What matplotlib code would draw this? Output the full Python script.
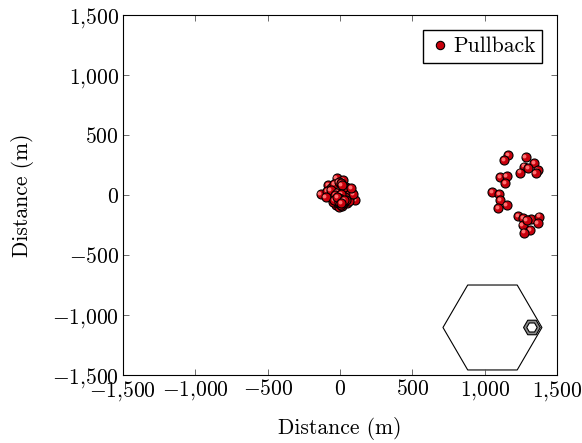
import numpy as np
import matplotlib.pyplot as plt
import matplotlib.transforms as mtransforms
from matplotlib.ticker import FuncFormatter
from matplotlib.patches import Polygon

plt.rcParams.update({'font.family': 'cmr10', 'mathtext.fontset': 'cm',
                     'axes.formatter.use_mathtext': True, 'font.size': 15.5})

# pullback positions (m): cluster at the origin
center_x = [-133, -23, 23, -81, 104, -60, -40, -10, 10, 40, 60, 70, -70, -50, 30,
            0, -20, 20, 50, -30, 5, -5, 15, 80, -90, 45, -45, 65, 35, -15,
            -35, 25, 55, -65, 90, -100, 0, 12, -8, 75,
            -10, 10, -25, 25, 0, -15, 15, -30, 30, 5, -5, 20, -20, 0, 8, -12,
            18, -22, 35, -35, 40, -40, 0, 10, -10, 2, -6, 14, -18, 28, 6]
center_y = [6, 139, 125, 83, -42, 60, 90, 110, 100, 70, 40, -10, -20, 20, 30,
            0, -40, -60, -70, -80, 50, -100, -90, 20, 30, -30, -60, -50, 60, 10,
            -10, -20, 0, 40, 10, -20, -60, 80, -40, 55,
            -10, -20, 0, -30, -50, -70, -40, -30, -60, -20, 10, -10, 20, -30, -80, -50,
            -70, -50, -20, 0, -40, -40, -10, 5, -60, -35, -25, -55, -15, -45, -65]
# cluster on the right
far_x = [1163, 1133, 1283, 1274, 1343, 1366, 1352, 1244, 1301, 1106, 1152, 1140, 1053,
         1101, 1106, 1152, 1094, 1232, 1267, 1320, 1375, 1366, 1263, 1313, 1272, 1290]
far_y = [333, 292, 314, 236, 264, 208, 181, 186, 222, 148, 158, 98, 22,
         8, -42, -83, -111, -175, -194, -200, -181, -236, -250, -292, -314, -208]

# hexagon outlines
big_hex_x = [712, 883, 1225, 1396, 1225, 883]
big_hex_y = [-1104, -750, -750, -1104, -1458, -1458]
small_c = (1327, -1104)
small_r_out = 58
small_r_in = 36

fig, ax = plt.subplots(figsize=(5.82, 4.43), dpi=100)
fig.subplots_adjust(left=0.2113, right=0.957, bottom=0.1535, top=0.966)

ax.add_patch(Polygon(list(zip(big_hex_x, big_hex_y)), closed=True, fill=False,
                     edgecolor='black', lw=0.8))
ang = np.radians(np.arange(0, 360, 60))
sy = 0.1447 / 0.12  # keep small hexagon regular on screen
outer = [(small_c[0] + small_r_out * np.cos(a), small_c[1] + small_r_out * sy * np.sin(a)) for a in ang]
inner = [(small_c[0] + small_r_in * np.cos(a), small_c[1] + small_r_in * sy * np.sin(a)) for a in ang]
ax.add_patch(Polygon(outer, closed=True, facecolor='#8c8c8c', edgecolor='black', lw=0.8))
ax.add_patch(Polygon(inner, closed=True, facecolor='white', edgecolor='black', lw=0.8))

# shaded balls: base marker plus a small highlight, point by point
hl = mtransforms.offset_copy(ax.transData, fig=fig, x=-1.3, y=1.3, units='dots')
xs = center_x + far_x
ys = center_y + far_y
for x, y in zip(xs, ys):
    ax.plot(x, y, 'o', ms=6.5, mfc='#c8000c', mec='black', mew=0.8)
    ax.plot(x, y, 'o', ms=2.8, mfc='#ff7070', mec='none', transform=hl)
ax.plot([], [], 'o', ms=6, mfc='#c8000c', mec='black', mew=0.8, label='Pullback')

ax.set_xlim(-1500, 1500)
ax.set_ylim(-1500, 1500)
ticks = [-1500, -1000, -500, 0, 500, 1000, 1500]
ax.set_xticks(ticks)
ax.set_yticks(ticks)
fmt = FuncFormatter(lambda v, p: '$' + f'{v:,.0f}'.replace(',', '{,}') + '$')
ax.xaxis.set_major_formatter(fmt)
ax.yaxis.set_major_formatter(fmt)
ax.tick_params(direction='in', top=True, right=True, length=4, width=0.6,
               color='#555555', pad=3)
ax.set_xlabel('Distance (m)', labelpad=10)
ax.set_ylabel('Distance (m)', labelpad=13)
ax.legend(loc='upper right', fancybox=False, edgecolor='black', framealpha=1,
          handletextpad=0.1, borderpad=0.3, handlelength=1.0, borderaxespad=0.7)

plt.savefig('out.png', dpi=100)
